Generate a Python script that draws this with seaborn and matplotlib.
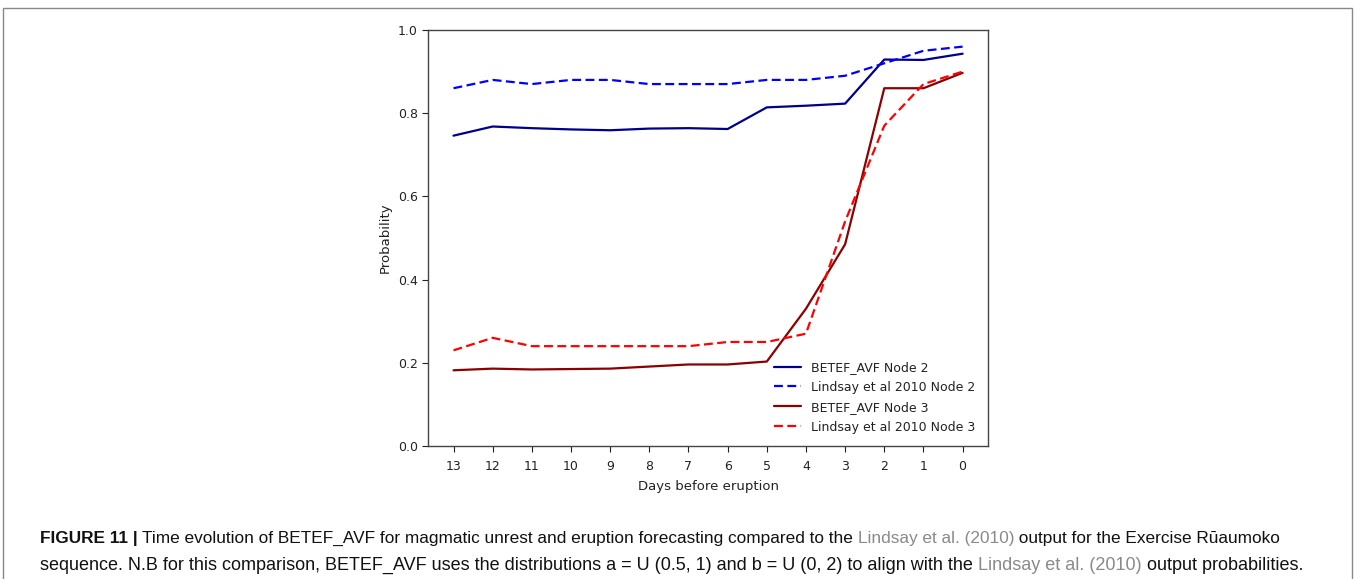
import matplotlib
matplotlib.use("Agg")
import matplotlib.pyplot as plt
import seaborn as sns
import pandas as pd
import numpy as np
from matplotlib.patches import Rectangle

days = [13, 12, 11, 10, 9, 8, 7, 6, 5, 4, 3, 2, 1, 0]
betef_node2 = [0.746, 0.768, 0.764, 0.761, 0.759, 0.763, 0.764, 0.762, 0.814, 0.818, 0.823, 0.929, 0.928, 0.943]
lindsay_node2 = [0.86, 0.88, 0.87, 0.88, 0.88, 0.87, 0.87, 0.87, 0.88, 0.88, 0.89, 0.92, 0.95, 0.96]
betef_node3 = [0.182, 0.186, 0.184, 0.185, 0.186, 0.191, 0.196, 0.196, 0.203, 0.33, 0.485, 0.86, 0.86, 0.897]
lindsay_node3 = [0.23, 0.26, 0.24, 0.24, 0.24, 0.24, 0.24, 0.25, 0.25, 0.27, 0.54, 0.77, 0.87, 0.90]

series_names = ["BETEF_AVF Node 2", "Lindsay et al 2010 Node 2",
                "BETEF_AVF Node 3", "Lindsay et al 2010 Node 3"]
series_vals = [betef_node2, lindsay_node2, betef_node3, lindsay_node3]
colors = ["#00008B", "#0000FF", "#8B0000", "#FF0000"]
dashes_flags = [False, True, False, True]

rows = []
for name, vals in zip(series_names, series_vals):
    for d, v in zip(days, vals):
        rows.append({"day": d, "prob": v, "series": name})
df = pd.DataFrame(rows)

sns.set_style("ticks")
plt.rcParams['font.family'] = ['DejaVu Sans']

fig = plt.figure(figsize=(13.55, 5.79), dpi=100)
ax = fig.add_axes([0.3159, 0.2297, 0.4133, 0.7185])

sns.lineplot(data=df, x="day", y="prob", hue="series", style="series",
             hue_order=series_names, style_order=series_names,
             palette=dict(zip(series_names, colors)),
             dashes={n: ((4, 2) if f else "") for n, f in zip(series_names, dashes_flags)},
             linewidth=1.6, ax=ax, sort=False)

ax.set_xlim(13.65, -0.65)
ax.set_ylim(0, 1.0)
ax.set_xticks(days)
ax.set_xticklabels([str(d) for d in days])
ax.set_yticks([0.0, 0.2, 0.4, 0.6, 0.8, 1.0])
ax.tick_params(labelsize=9, colors="#222222", length=4)
ax.tick_params(axis="x", pad=6)
ax.set_xlabel("Days before eruption", fontsize=9.5, color="#222222", labelpad=5)
ax.set_ylabel("Probability", fontsize=9.5, color="#222222")
for s in ax.spines.values():
    s.set_visible(True)
    s.set_color("#444444")
    s.set_linewidth(1.0)

leg = ax.legend(loc="lower right", frameon=False, fontsize=9,
                handlelength=2.2, labelspacing=0.55, borderaxespad=0.6)
for t in leg.get_texts():
    t.set_color("#222222")

# outer frame
fig.patches.append(Rectangle((3 / 1355, -0.01), 1349 / 1355, (579 - 8) / 579 + 0.01,
                             transform=fig.transFigure, fill=False,
                             edgecolor="#888888", linewidth=1.0))

# caption
cap_font = "Liberation Sans"
renderer = fig.canvas.get_renderer()

def draw_pieces(pieces, x0, y0, fs):
    x = x0
    made = []
    for txt, color, weight in pieces:
        t = fig.text(x / 1355, 1 - y0 / 579, txt, fontsize=fs, color=color,
                     fontweight=weight, family=cap_font, va="baseline", ha="left")
        x += t.get_window_extent(renderer=renderer).width
        made.append(t)
    return made, x - x0

def write_line(pieces, x0, y0, x_end):
    fs = 13.0
    for _ in range(3):
        made, total = draw_pieces(pieces, x0, y0, fs)
        for t in made:
            t.remove()
        fs = fs * (x_end - x0) / total
    draw_pieces(pieces, x0, y0, fs)

dark = "#111111"
link = "#8a8a8a"
write_line([("FIGURE 11 | ", dark, "bold"),
            ("Time evolution of BETEF_AVF for magmatic unrest and eruption forecasting compared to the ", dark, "normal"),
            ("Lindsay et al. (2010)", link, "normal"),
            (" output for the Exercise Rūaumoko", dark, "normal")], 40, 543, 1280)
write_line([("sequence. N.B for this comparison, BETEF_AVF uses the distributions a = U (0.5, 1) and b = U (0, 2) to align with the ", dark, "normal"),
            ("Lindsay et al. (2010)", link, "normal"),
            (" output probabilities.", dark, "normal")], 40, 570, 1305)

fig.savefig("out.png", dpi=100)
